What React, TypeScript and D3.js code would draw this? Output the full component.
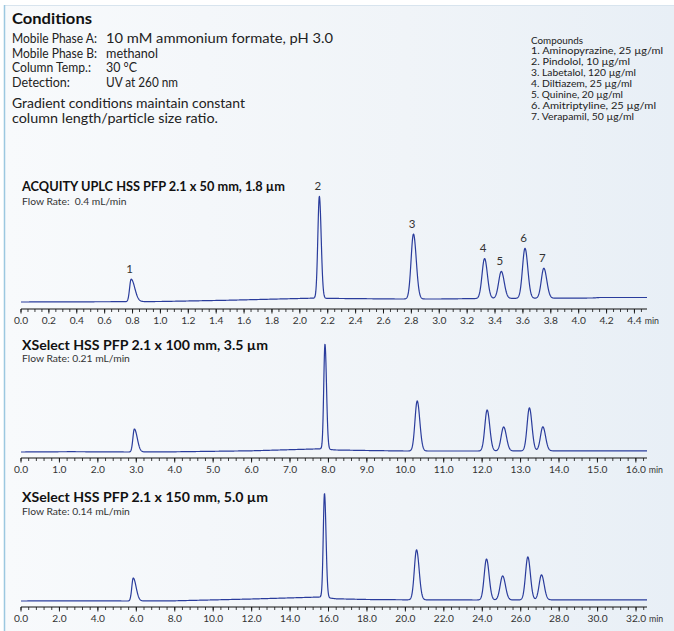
import React from 'react';
import * as d3 from 'd3';

const W = 674;
const H = 631;

// ---- text content ----
const conditionLabels = ['Mobile Phase A:', 'Mobile Phase B:', 'Column Temp.:', 'Detection:'];
const conditionValues = ['10 mM ammonium formate, pH 3.0', 'methanol', '30 °C', 'UV at 260 nm'];
const noteLines = ['Gradient conditions maintain constant', 'column length/particle size ratio.'];
const compoundsHeader = 'Compounds';
const compounds = [
  '1. Aminopyrazine, 25 µg/ml',
  '2. Pindolol, 10 µg/ml',
  '3. Labetalol, 120 µg/ml',
  '4. Diltiazem, 25 µg/ml',
  '5. Quinine, 20 µg/ml',
  '6. Amitriptyline, 25 µg/ml',
  '7. Verapamil, 50 µg/ml',
];

const panelTitles = [
  'ACQUITY UPLC HSS PFP 2.1 x 50 mm, 1.8 µm',
  'XSelect HSS PFP 2.1 x 100 mm, 3.5 µm',
  'XSelect HSS PFP 2.1 x 150 mm, 5.0 µm',
];
const flowRates = ['Flow Rate:  0.4 mL/min', 'Flow Rate: 0.21 mL/min', 'Flow Rate: 0.14 mL/min'];

// ---- axes ----
const xMax = [4.49, 16.29, 32.57];
const labelStep = [0.2, 1, 2];
const minorStep = [0.05, 0.2, 0.4];

// ---- peaks (retention time min, height, left sigma, right sigma) ----
const peakNames = ['1', '2', '3', '4', '5', '6', '7'];

const rt1 = [0.79, 2.14, 2.815, 3.325, 3.445, 3.615, 3.75];
const h1 = [22.5, 102, 65, 40, 27, 50, 30];
const sl1 = [0.011, 0.011, 0.017, 0.018, 0.019, 0.018, 0.018];
const sr1 = [0.026, 0.013, 0.02, 0.02, 0.021, 0.02, 0.021];
const baseT1 = [0, 0.7, 1.0, 1.5, 2.08, 2.3, 2.7, 3.0, 3.3, 4.1, 4.15, 4.49];
const baseV1 = [3, 3.3, 3.5, 4.8, 6.8, 6.5, 6, 6, 6.5, 7, 7.5, 7.5];

const rt2 = [2.95, 7.91, 10.31, 12.13, 12.56, 13.23, 13.58];
const h2 = [23, 105, 50, 41, 24, 43, 24];
const sl2 = [0.038, 0.032, 0.058, 0.06, 0.065, 0.06, 0.062];
const sr2 = [0.075, 0.04, 0.068, 0.068, 0.072, 0.066, 0.07];
const baseT2 = [0, 1.3, 2.8, 4.0, 6.0, 7.8, 8.2, 9.0, 10.0, 12.0, 14.0, 16.29];
const baseV2 = [3, 3.3, 3, 3.2, 4.2, 6.2, 5, 4.5, 4, 4, 4.2, 4.2];

const rt3 = [5.84, 15.79, 20.58, 24.22, 25.06, 26.37, 27.08];
const h3 = [23, 104, 50, 41, 24, 43, 25];
const sl3 = [0.075, 0.064, 0.115, 0.12, 0.13, 0.12, 0.122];
const sr3 = [0.15, 0.08, 0.135, 0.135, 0.145, 0.132, 0.14];
const baseT3 = [0, 2.6, 5.6, 8.0, 12.0, 15.6, 16.4, 18.0, 20.0, 24.0, 28.0, 32.57];
const baseV3 = [3, 3.2, 3, 3.2, 5, 7, 5.2, 4.5, 4.2, 4, 4.2, 4.2];

const panels = [
  { rt: rt1, h: h1, sl: sl1, sr: sr1, bt: baseT1, bv: baseV1 },
  { rt: rt2, h: h2, sl: sl2, sr: sr2, bt: baseT2, bv: baseV2 },
  { rt: rt3, h: h3, sl: sl3, sr: sr3, bt: baseT3, bv: baseV3 },
];

// ---- layout (positions / sizes) ----
const layout = [
  { titleY: 191, flowY: 205, zeroY: 305, axisY: 309 },
  { titleY: 350, flowY: 362, zeroY: 455, axisY: 458 },
  { titleY: 502, flowY: 515, zeroY: 604, axisY: 607 },
];
const titleWidths = [263, 246, 246];
const labelWidths = [85, 85, 79, 58];
const valueWidths = [227, 52, 31, 72];
const noteWidths = [233, 206];
const compoundWidths = [132, 99, 105, 101, 92, 125, 103];

const X0 = 21;
const X1 = 647;
const FONT = 'Lato, "Open Sans", sans-serif';
const LINE = '#2a3c9c';

function Panel({ i }: { i: number }) {
  const p = panels[i];
  const L = layout[i];
  const x = d3.scaleLinear().domain([0, xMax[i]]).range([X0, X1]);
  const y = d3.scaleLinear().domain([0, 120]).range([L.zeroY, L.zeroY - 120]);
  const base = d3.scaleLinear().domain(p.bt).range(p.bv).clamp(true);
  const signal = (t: number) => {
    let v = base(t);
    for (let k = 0; k < p.rt.length; k++) {
      const d = t - p.rt[k];
      const s = d < 0 ? p.sl[k] : p.sr[k];
      v += p.h[k] * Math.exp(-0.5 * (d / s) * (d / s));
    }
    return v;
  };
  const N = 2400;
  const ts = d3.range(N + 1).map((j) => (j / N) * xMax[i]);
  const path = d3
    .line<number>()
    .x((t) => x(t))
    .y((t) => y(signal(t)))(ts);

  const eps = 1e-6;
  const minors = d3.range(0, xMax[i] + eps, minorStep[i]);
  const majors = d3.range(0, xMax[i] + eps, labelStep[i]);
  const fmt = d3.format('.1f');
  const lastMajor = majors[majors.length - 1];
  const lastLabel = fmt(lastMajor);

  return (
    <g>
      <text
        x={22}
        y={L.titleY}
        fontFamily={FONT}
        fontSize={13.5}
        fontWeight={700}
        fill="#111"
        textLength={titleWidths[i]}
        lengthAdjust="spacingAndGlyphs"
      >
        {panelTitles[i]}
      </text>
      <text x={22} y={L.flowY} fontFamily={FONT} fontSize={10.3} fill="#333" style={{ whiteSpace: 'pre' }}>
        {flowRates[i]}
      </text>
      <path d={path || ''} fill="none" stroke={LINE} strokeWidth={1.2} strokeLinejoin="round" />
      {i === 0 &&
        p.rt.map((t, k) => (
          <text
            key={k}
            x={x(t) - 1.5}
            y={y(signal(t)) - 6}
            textAnchor="middle"
            fontFamily={FONT}
            fontSize={11.5}
            fill="#333"
          >
            {peakNames[k]}
          </text>
        ))}
      <line x1={X0} x2={X1} y1={L.axisY} y2={L.axisY} stroke="#111" strokeWidth={1} />
      {minors.map((t, k) => (
        <line key={'m' + k} x1={x(t)} x2={x(t)} y1={L.axisY} y2={L.axisY + 3} stroke="#111" strokeWidth={0.8} />
      ))}
      {majors.map((t, k) => (
        <line key={'M' + k} x1={x(t)} x2={x(t)} y1={L.axisY} y2={L.axisY + 4.5} stroke="#111" strokeWidth={0.9} />
      ))}
      {majors.map((t, k) => (
        <text
          key={'l' + k}
          x={x(t)}
          y={L.axisY + 15}
          textAnchor="middle"
          fontFamily={FONT}
          fontSize={10.2}
          fill="#333"
        >
          {fmt(t)}
        </text>
      ))}
      <text
        x={x(lastMajor) + lastLabel.length * 2.6 + 2.5}
        y={L.axisY + 15}
        fontFamily={FONT}
        fontSize={8.8}
        fill="#333"
      >
        min
      </text>
    </g>
  );
}

export default function App() {
  return (
    <svg width={W} height={H} style={{ position: 'absolute', left: 0, top: 0, display: 'block' }}>
      <defs>
        <linearGradient id="bg" x1="0" y1="0" x2="1" y2="0">
          <stop offset="0" stopColor="#f8fafc" />
          <stop offset="0.6" stopColor="#f0f4f8" />
          <stop offset="1" stopColor="#e8eff6" />
        </linearGradient>
      </defs>
      <rect x={0} y={0} width={W} height={H} fill="#ffffff" />
      <rect x={4} y={5} width={W - 4} height={H - 5} fill="url(#bg)" />
      <line x1={4} x2={W} y1={5.5} y2={5.5} stroke="#d8e4ee" strokeWidth={1} />
      <line x1={4.5} x2={4.5} y1={5} y2={H} stroke="#9cc8e0" strokeWidth={1.5} />

      {/* Conditions */}
      <text
        x={12}
        y={24}
        fontFamily={FONT}
        fontSize={16}
        fontWeight={700}
        fill="#111"
        textLength={80}
        lengthAdjust="spacingAndGlyphs"
      >
        Conditions
      </text>
      {conditionLabels.map((s, k) => (
        <text
          key={k}
          x={12}
          y={43 + k * 14.6}
          fontFamily={FONT}
          fontSize={12.8}
          fill="#222"
          textLength={labelWidths[k]}
          lengthAdjust="spacingAndGlyphs"
        >
          {s}
        </text>
      ))}
      {conditionValues.map((s, k) => (
        <text
          key={k}
          x={106}
          y={43 + k * 14.6}
          fontFamily={FONT}
          fontSize={12.8}
          fill="#222"
          textLength={valueWidths[k]}
          lengthAdjust="spacingAndGlyphs"
        >
          {s}
        </text>
      ))}
      {noteLines.map((s, k) => (
        <text
          key={k}
          x={12}
          y={108 + k * 15}
          fontFamily={FONT}
          fontSize={12.6}
          fill="#222"
          textLength={noteWidths[k]}
          lengthAdjust="spacingAndGlyphs"
        >
          {s}
        </text>
      ))}

      {/* Compounds */}
      <text x={531} y={43.5} fontFamily={FONT} fontSize={9} fill="#222" textLength={52} lengthAdjust="spacingAndGlyphs">
        {compoundsHeader}
      </text>
      {compounds.map((s, k) => (
        <text
          key={k}
          x={531}
          y={54.4 + k * 10.85}
          fontFamily={FONT}
          fontSize={9}
          fill="#222"
          textLength={compoundWidths[k]}
          lengthAdjust="spacingAndGlyphs"
        >
          {s}
        </text>
      ))}

      {[0, 1, 2].map((i) => (
        <Panel key={i} i={i} />
      ))}
    </svg>
  );
}
